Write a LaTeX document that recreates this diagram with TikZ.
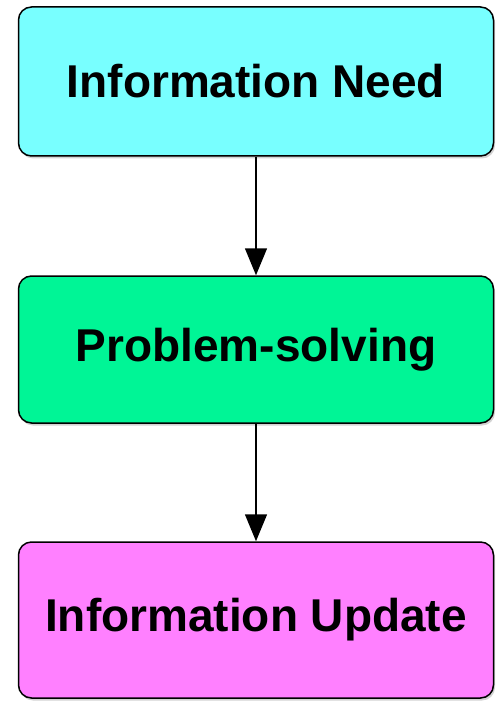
\documentclass[tikz,border=0pt]{standalone}
\usepackage{fontspec}
\setmainfont{Liberation Sans}
\usetikzlibrary{positioning}
\usetikzlibrary{shadows}
\usetikzlibrary{arrows.meta}

\definecolor{needcol}{RGB}{120,255,255}
\definecolor{solvecol}{RGB}{0,245,150}
\definecolor{updatecol}{RGB}{255,128,255}

\tikzset{
  stage/.style={draw, line width=1.5pt, rounded corners=13pt, minimum width=475pt, minimum height=149pt,
    font=\fontsize{46}{50}\selectfont\bfseries, drop shadow={shadow xshift=1.5pt, shadow yshift=-2.5pt, opacity=0.35}},
  flow/.style={-{Triangle[length=27pt, width=22pt]}, line width=1.5pt}
}

\begin{document}
\begin{tikzpicture}[x=1pt,y=-1pt]
\useasboundingbox (0,0) rectangle (497,703);
\node[stage, fill=needcol] (need) at (256,81.5) {Information Need};
\node[stage, fill=solvecol, minimum height=147pt] (solve) at (256,349.5) {Problem-solving};
\node[stage, fill=updatecol, minimum height=156pt] (update) at (256,620) {Information Update};
\draw[flow] (need.south) -- (solve.north);
\draw[flow] (solve.south) -- (update.north);
\end{tikzpicture}
\end{document}
